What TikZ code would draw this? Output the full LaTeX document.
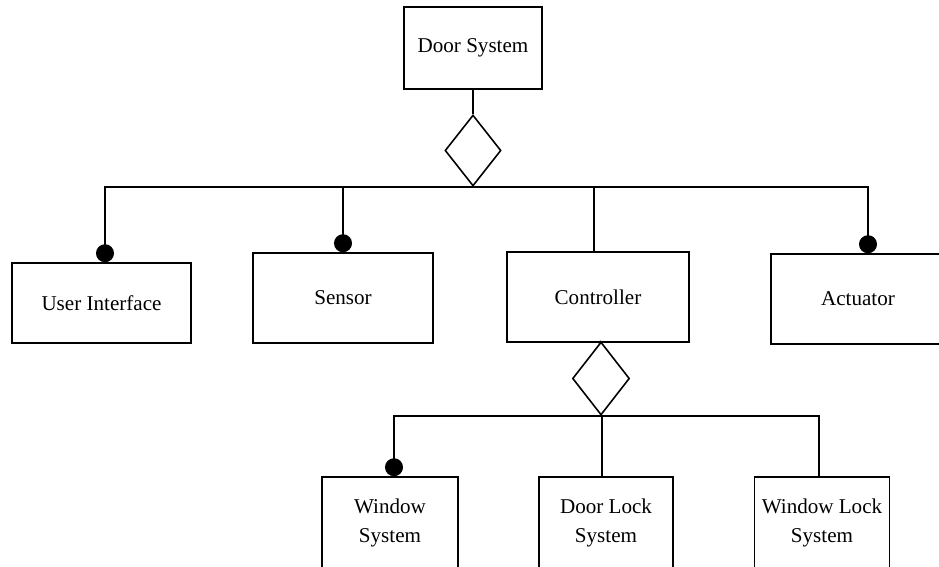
\documentclass[tikz,border=0pt]{standalone}
\usepackage{fontspec}
\setmainfont{Liberation Serif}
\usetikzlibrary{shapes.geometric,arrows.meta}

\begin{document}
\begin{tikzpicture}[x=0.02cm,y=-0.02cm,line width=0.9pt,
  block/.style={draw,rectangle,inner sep=1pt,align=center,font=\fontsize{12}{16.4}\selectfont},
  agg/.style={draw,diamond,inner sep=0pt,minimum width=1.12cm,minimum height=1.42cm},
  dot/.style={-{Circle[length=0.36cm,width=0.36cm]}}]
\useasboundingbox (0,0) rectangle (939,567);

\node[block,minimum width=2.76cm,minimum height=1.64cm] (door) at (473,48) {Door System};
\node[agg] (agg1) at (473,150.5) {};

\node[block,minimum width=3.58cm,minimum height=1.6cm] (ui) at (101.5,303) {User Interface};
\node[block,minimum width=3.6cm,minimum height=1.8cm] (sensor) at (343,298) {Sensor};
\node[block,minimum width=3.64cm,minimum height=1.8cm] (ctrl) at (598,297) {Controller};
\node[block,minimum width=3.48cm,minimum height=1.8cm] (act) at (858,299) {Actuator};

\node[agg,minimum width=1.14cm,minimum height=1.46cm] (agg2) at (601,378.5) {};

\node[block,minimum width=2.72cm,minimum height=1.84cm] (win) at (390,523) {Window\\System};
\node[block,minimum width=2.68cm,minimum height=1.84cm] (dlock) at (606,523) {Door Lock\\System};
\node[block,minimum width=2.7cm,minimum height=1.84cm] (wlock) at (822,523) {Window Lock\\System};

\draw (door.south) -- (agg1.north);
\draw[dot] (agg1.south) -| ([xshift=0.07cm]ui.north);
\draw[dot] (agg1.south) -| (sensor.north);
\draw (agg1.south) -| ([xshift=-0.08cm]ctrl.north);
\draw[dot] (agg1.south) -| ([xshift=0.2cm]act.north);

\draw (ctrl.south) -- (agg2.north);
\draw[dot] (agg2.south) -| ([xshift=0.08cm]win.north);
\draw (agg2.south) -| ([xshift=-0.08cm]dlock.north);
\draw (agg2.south) -| ([xshift=-0.06cm]wlock.north);
\end{tikzpicture}
\end{document}
